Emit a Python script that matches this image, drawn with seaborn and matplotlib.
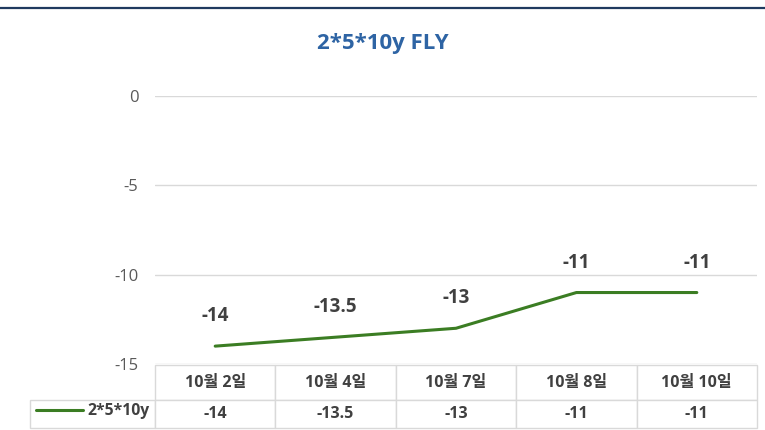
import matplotlib
matplotlib.use("Agg")
import matplotlib.pyplot as plt
import pandas as pd
import seaborn as sns
from matplotlib.lines import Line2D
from matplotlib.table import Table

sns.set_theme(style="white")
plt.rcParams["font.family"] = ["Open Sans", "Noto Sans CJK KR", "DejaVu Sans"]

# data
dates = ["10월 2일", "10월 4일", "10월 7일", "10월 8일", "10월 10일"]
fly = [-14, -13.5, -13, -11, -11]
series_name = "2*5*10y"
title = "2*5*10y FLY"
yticks = [0, -5, -10, -15]

green = "#3B7D23"
grid_c = "#D9D9D9"
txt_c = "#404040"

df = pd.DataFrame({"date": dates, "value": fly})

fig = plt.figure(figsize=(7.65, 4.3), dpi=100)
ax = fig.add_axes([155 / 765, 1 - 364 / 430, 602 / 765, 268 / 430])

sns.lineplot(data=df, x="date", y="value", ax=ax, color=green, linewidth=2.2,
             label=series_name, sort=False)

ax.set_xlim(-0.5, len(dates) - 0.5)
ax.set_ylim(-15, 0)
ax.set_yticks(yticks)
ax.set_yticklabels([str(t) for t in yticks])
ax.tick_params(axis="y", length=0, pad=12, labelsize=12, labelcolor="#595959")
ax.set_xticks([])
ax.set_xlabel("")
ax.set_ylabel("")
ax.grid(axis="y", color=grid_c, linewidth=1)
for s in ax.spines.values():
    s.set_visible(False)

# data labels
for i, v in enumerate(fly):
    ax.annotate(f"{v:g}", (i, v), xytext=(0, 21.5), textcoords="offset points",
                ha="center", va="center", fontsize=13.5, fontweight="bold", color=txt_c)

# data table below the plot (bbox covers the grid only; label column sits left of it)
head_h, row_h = 35 / 268, 28 / 268
col_w, lab_w = 1 / len(dates), 125 / 602
tbl = Table(ax, bbox=[0, -(head_h + row_h) - 1 / 268, 1, head_h + row_h])
tbl.auto_set_font_size(False)
for c, d in enumerate(dates):
    tbl.add_cell(0, c, col_w, head_h, text=d, loc="center")
    tbl.add_cell(1, c, col_w, row_h, text=f"{fly[c]:g}", loc="center")
tbl.add_cell(1, -1, lab_w, row_h, text="", loc="center")
for cell in tbl.get_celld().values():
    cell.set_edgecolor(grid_c)
    cell.set_linewidth(1)
    cell.get_text().set_fontsize(11.5)
    cell.get_text().set_fontweight("bold")
    cell.get_text().set_color(txt_c)
ax.add_table(tbl)

# legend key inside the row label cell
leg = ax.legend(loc="center left", bbox_to_anchor=(-119 / 602, -47 / 268),
                frameon=False, borderpad=0, borderaxespad=0, handlelength=3.0,
                handletextpad=0.25, prop={"weight": "bold", "size": 11.3})
for t in leg.get_texts():
    t.set_color(txt_c)

# title and top rule
fig.text(0.5, 1 - 44 / 430, title, ha="center", va="center", fontsize=16,
         fontweight="bold", color="#2E64A4")
fig.add_artist(Line2D([0, 1], [1 - 8 / 430, 1 - 8 / 430], color="#1F3A5F",
                      linewidth=1.6, transform=fig.transFigure))

fig.savefig("out.png", dpi=100)
